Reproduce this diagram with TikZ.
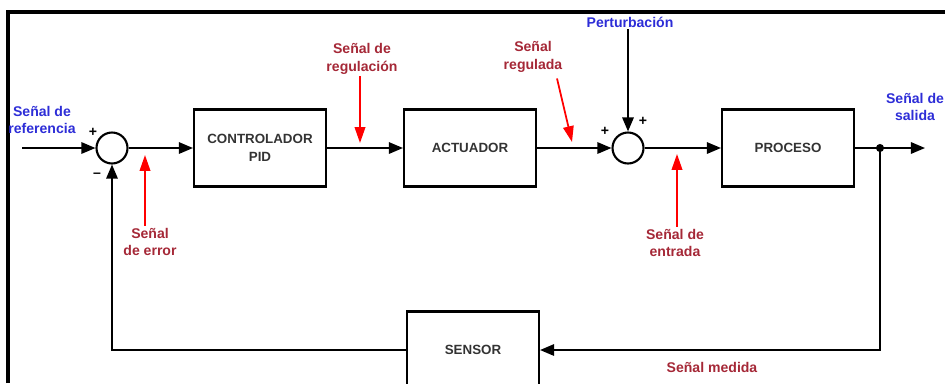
\documentclass[tikz,border=0pt]{standalone}
\usepackage{fontspec}
\setmainfont{Liberation Sans}
\usepackage{xcolor}
\usetikzlibrary{arrows.meta,calc}

\definecolor{lblred}{RGB}{165,40,55}
\definecolor{lblblue}{RGB}{45,45,215}

\begin{document}
\begin{tikzpicture}[x=0.02cm, y=-0.02cm,
        block/.style={draw, line width=1.2pt, minimum width=2.64cm, minimum height=1.54cm,
            align=center, text=black!80, font=\fontsize{7.6}{10.5}\selectfont\bfseries},
        sumnode/.style={draw, circle, line width=1.2pt, minimum size=0.62cm, inner sep=0pt},
        sig/.style={line width=1pt, -{Triangle[length=8pt,width=6.5pt]}},
        redarrow/.style={red, line width=1pt, -{Triangle[length=9pt,width=6pt]}},
        redlbl/.style={text=lblred, align=center, inner sep=1pt, font=\fontsize{8}{10}\selectfont\bfseries},
        bluelbl/.style={text=lblblue, align=center, inner sep=1pt, font=\fontsize{8}{10}\selectfont\bfseries},
        sgn/.style={inner sep=0pt, font=\fontsize{8}{8}\selectfont\bfseries}]
        \useasboundingbox (0,0) rectangle (945,383);
        \clip (0,0) rectangle (945,383);

        % Frame
        \draw[line width=2.3pt] (8,383) -- (8,12) -- (945,12);

        % Pieces
        \node[sumnode] (S1) at (112,148) {};
        \node[block] (PID) at (260,148) {CONTROLADOR\\PID};
        \node[block] (ACT) at (470,148) {ACTUADOR};
        \node[sumnode] (S2) at (628,148) {};
        \node[block] (PRO) at (788,148) {PROCESO};
        \node[block] (SEN) at (473,350) {SENSOR};
        \coordinate (IN) at (22,148);
        \coordinate (OUT) at (925,148);
        \coordinate (BR) at (880,148);
        \coordinate (FB) at (880,350);
        \coordinate (FL) at (112,350);
        \fill (BR) circle (2.3pt);

        % Signs
        \node[sgn] (p1) at (93,132) {+};
        \node[sgn] (m1) at (97,175) {--};
        \node[sgn] (p2) at (605,131) {+};
        \node[sgn] (p3) at (643,121) {+};

        % Labels
        \node[bluelbl] (REF) at (42,120) {Señal de\\referencia};
        \node[bluelbl] (PER) at (630,22) {Perturbación};
        \node[bluelbl] (SAL) at (915,107) {Señal de\\salida};
        \node[redlbl] (ERR) at (150,242) {Señal\\de error};
        \node[redlbl] (REG) at (362,59) {Señal de\\regulación};
        \node[redlbl] (RGD) at (533,57) {Señal\\regulada};
        \node[redlbl] (ENT) at (675,243) {Señal de\\entrada};
        \node[redlbl] (MED) at (712,367) {Señal medida};

        % Arrows
        \draw[sig] (IN) -- (S1.west);
        \draw[sig] (S1.east) -- (PID.west);
        \draw[sig] (PID.east) -- (ACT.west);
        \draw[sig] (ACT.east) -- (S2.west);
        \draw[sig] (S2 |- PER.south) -- (S2.north);
        \draw[sig] (S2.east) -- (PRO.west);
        \draw[sig] (PRO.east) -- (OUT);
        \draw[sig] (BR) -- (FB) -- (SEN.east);
        \draw[sig] (SEN.west) -- (FL) -- (S1.south);

        % Pointers
        \coordinate (tERR) at (145,155);
        \coordinate (tREG) at (360,143);
        \coordinate (tRGD) at (572,142);
        \coordinate (tENT) at (677,154);
        \draw[redarrow] (tERR |- ERR.north) -- (tERR);
        \draw[redarrow] (tREG |- REG.south) -- (tREG);
        \draw[redarrow] ($(RGD.south)+(24,4)$) -- (tRGD);
        \draw[redarrow] (tENT |- ENT.north) -- (tENT);
\end{tikzpicture}
\end{document}
